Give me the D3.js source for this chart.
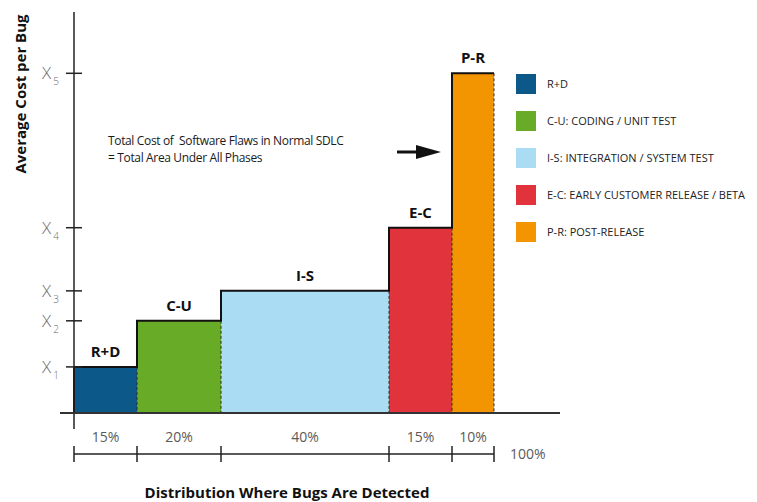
<!DOCTYPE html>
<meta charset="utf-8">
<style>

body {
  margin: 0;
  background: #fff;
}

svg {
  font-family: "Open Sans", sans-serif;
}

.bar-label {
  font-size: 15px;
  font-weight: bold;
  fill: #111;
  text-anchor: middle;
}

.pct {
  font-size: 14px;
  fill: #5a5a5a;
  text-anchor: middle;
}

.legend text {
  font-size: 11px;
  fill: #222;
}

.note {
  font-size: 12px;
  fill: #1a1a1a;
  letter-spacing: -0.35px;
}

.axis-title {
  font-size: 15px;
  font-weight: bold;
  fill: #111;
}

</style>
<svg></svg>
<script src="https://d3js.org/d3.v7.min.js"></script>
<script>

var phases = ['R+D', 'C-U', 'I-S', 'E-C', 'P-R'];
var shares = [15, 20, 40, 15, 10];
var costs = [1, 2, 2.65, 4.02, 7.37];
var tickSubs = ['1', '2', '3', '4', '5'];
var legendLabels = [
  'R+D',
  'C-U: CODING / UNIT TEST',
  'I-S: INTEGRATION / SYSTEM TEST',
  'E-C: EARLY CUSTOMER RELEASE / BETA',
  'P-R: POST-RELEASE'
];
var colors = ['#0b5889', '#68ab26', '#aadcf3', '#e0333b', '#f39500'];

var width = 757;
var height = 502;

var x = d3.scaleLinear().domain([0, 100]).range([74, 494]);
var y = d3.scaleLinear().domain([0, 8.7]).range([413, 12]);

var svg = d3.select('svg')
  .attr('width', width)
  .attr('height', height);

// cumulative start / end of every phase
var acc = 0;
var bars = phases.map(function (p, i) {
  var d = { name: p, x0: acc, x1: acc + shares[i], cost: costs[i], color: colors[i] };
  acc += shares[i];
  return d;
});

svg.append('g')
  .selectAll('rect')
  .data(bars)
  .enter().append('rect')
  .attr('x', function (d) { return x(d.x0); })
  .attr('y', function (d) { return y(d.cost); })
  .attr('width', function (d) { return x(d.x1) - x(d.x0); })
  .attr('height', function (d) { return y(0) - y(d.cost); })
  .attr('fill', function (d) { return d.color; });

// dashed right edges
svg.append('g')
  .selectAll('line')
  .data(bars)
  .enter().append('line')
  .attr('x1', function (d) { return x(d.x1); })
  .attr('x2', function (d) { return x(d.x1); })
  .attr('y1', function (d, i) { return i < bars.length - 1 ? y(Math.min(d.cost, bars[i + 1].cost)) : y(d.cost); })
  .attr('y2', y(0))
  .attr('stroke', '#3a2a1a')
  .attr('stroke-width', 1)
  .attr('stroke-dasharray', '3,2');

// solid step outline along the tops
var step = 'M' + x(0) + ',' + y(0);
bars.forEach(function (d) {
  step += 'L' + x(d.x0) + ',' + y(d.cost) + 'L' + x(d.x1) + ',' + y(d.cost);
});
svg.append('path')
  .attr('d', step)
  .attr('fill', 'none')
  .attr('stroke', '#111')
  .attr('stroke-width', 2);

svg.append('g')
  .selectAll('text')
  .data(bars)
  .enter().append('text')
  .attr('class', 'bar-label')
  .attr('x', function (d) { return (x(d.x0) + x(d.x1)) / 2; })
  .attr('y', function (d) { return y(d.cost) - 10; })
  .text(function (d) { return d.name; });

// y axis
svg.append('line')
  .attr('x1', x(0)).attr('x2', x(0))
  .attr('y1', y.range()[1]).attr('y2', y(0) + 16)
  .attr('stroke', '#222').attr('stroke-width', 1.5);

svg.append('g')
  .selectAll('line')
  .data(costs)
  .enter().append('line')
  .attr('x1', x(0) - 8).attr('x2', x(0) + 8)
  .attr('y1', function (d) { return y(d); })
  .attr('y2', function (d) { return y(d); })
  .attr('stroke', '#222').attr('stroke-width', 1.5);

var tl = svg.append('g')
  .selectAll('text')
  .data(costs)
  .enter().append('text')
  .attr('x', 42)
  .attr('y', function (d) { return y(d) + 6; })
  .attr('fill', '#6a6a6a')
  .style('font-size', '17px')
  .style('font-weight', 300);
tl.append('tspan').text('X');
tl.append('tspan')
  .attr('dx', 2).attr('dy', 6)
  .style('font-size', '10px')
  .text(function (d, i) { return tickSubs[i]; });

// x baseline
svg.append('line')
  .attr('x1', 60).attr('x2', 560)
  .attr('y1', y(0)).attr('y2', y(0))
  .attr('stroke', '#333').attr('stroke-width', 2);

// percentage labels
svg.append('g')
  .selectAll('text')
  .data(bars)
  .enter().append('text')
  .attr('class', 'pct')
  .attr('x', function (d) { return (x(d.x0) + x(d.x1)) / 2; })
  .attr('y', 442)
  .text(function (d, i) { return shares[i] + '%'; });

// dimension line
var dimY = 454;
svg.append('line')
  .attr('x1', x(0)).attr('x2', x(100))
  .attr('y1', dimY).attr('y2', dimY)
  .attr('stroke', '#222').attr('stroke-width', 1.5);

svg.append('g')
  .selectAll('line')
  .data([0].concat(bars.map(function (d) { return d.x1; })))
  .enter().append('line')
  .attr('x1', function (d) { return x(d); })
  .attr('x2', function (d) { return x(d); })
  .attr('y1', dimY - 8).attr('y2', dimY + 8)
  .attr('stroke', '#222').attr('stroke-width', 1.5);

svg.append('text')
  .attr('class', 'pct')
  .attr('x', x(100) + 16)
  .attr('y', dimY + 5)
  .style('text-anchor', 'start')
  .text(d3.sum(shares) + '%');

// axis titles
svg.append('text')
  .attr('class', 'axis-title')
  .attr('x', 287)
  .attr('y', 498)
  .attr('text-anchor', 'middle')
  .text('Distribution Where Bugs Are Detected');

svg.append('text')
  .attr('class', 'axis-title')
  .attr('transform', 'translate(26,94) rotate(-90)')
  .attr('text-anchor', 'middle')
  .text('Average Cost per Bug');

// annotation
svg.append('text')
  .attr('class', 'note')
  .attr('x', 108)
  .attr('y', 145)
  .style('white-space', 'pre')
  .text('Total Cost of  Software Flaws in Normal SDLC');
svg.append('text')
  .attr('class', 'note')
  .attr('x', 108)
  .attr('y', 162)
  .text('= Total Area Under All Phases');

svg.append('line')
  .attr('x1', 397).attr('x2', 420)
  .attr('y1', 152).attr('y2', 152)
  .attr('stroke', '#111').attr('stroke-width', 3);
svg.append('path')
  .attr('d', 'M416,145L441,152L416,159Z')
  .attr('fill', '#111');

// legend
var legend = svg.append('g')
  .attr('class', 'legend')
  .selectAll('g')
  .data(legendLabels)
  .enter().append('g')
  .attr('transform', function (d, i) { return 'translate(516,' + (74 + i * 37) + ')'; });

legend.append('rect')
  .attr('width', 20)
  .attr('height', 20)
  .attr('fill', function (d, i) { return colors[i]; });

legend.append('text')
  .attr('x', 31)
  .attr('y', 14)
  .text(function (d) { return d; });

</script>
